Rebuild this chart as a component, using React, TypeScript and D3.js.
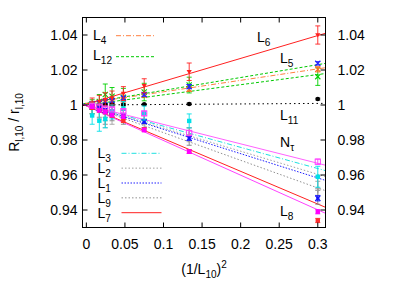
import React from "react";
import * as d3 from "d3";

const X_VALUES = [0.3, 0.1333, 0.075, 0.048, 0.0333, 0.0245, 0.0168, 0.0075];

const L6_Y = [1.040, 1.019, 1.011, 1.0065, 1.004, 1.003, 1.002, 1.001];
const L6_ERR = [0.0052, 0.005, 0.004, 0.004, 0.004, 0.004, 0.0035, 0.003];
const L5_Y = [1.0238, 1.0105, 1.006, 1.004, 1.0025, 1.002, 1.0012, 1.0006];
const L5_ERR = [0.001, 0.0012, 0.001, 0.001, 0.001, 0.001, 0.001, 0.001];
const L4_Y = [1.0204, 1.009, 1.0055, 1.003, 1.002, 1.0015, 1.001, 1.0005];
const L4_ERR = [0.0015, 0.0012, 0.001, 0.001, 0.001, 0.001, 0.001, 0.001];
const L12_Y = [1.0162, 1.0114, 1.0074, 1.0045, 1.005, 1.006, 1.002, 0.999];
const L12_ERR = [0.005, 0.0045, 0.005, 0.005, 0.005, 0.006, 0.004, 0.004];
const L11_Y = [1.0034, 1.0006, 1.0004, 1.0003, 1.0002, 1.0001, 1.0, 1.0];
const L11_ERR = [0.0005, 0.0005, 0.0004, 0.0004, 0.0004, 0.0004, 0.0004, 0.0004];
const NT_Y = [0.9676, 0.984, 0.9952, 0.9965, 0.9975, 0.998, 0.999, 0.9995];
const NT_ERR = [0.0015, 0.0015, 0.0012, 0.001, 0.001, 0.001, 0.001, 0.001];
const L3_Y = [0.959, 0.9909, 0.9954, 0.998, 0.996, 0.992, 0.991, 0.994];
const L3_ERR = [0.006, 0.004, 0.004, 0.004, 0.004, 0.005, 0.006, 0.005];
const L2_Y = [0.9524, 0.983, 0.992, 0.995, 0.993, 0.991, 0.996, 0.998];
const L2_ERR = [0.004, 0.004, 0.003, 0.003, 0.004, 0.004, 0.004, 0.003];
const L1_Y = [0.9467, 0.981, 0.9905, 0.994, 0.996, 0.997, 0.998, 0.999];
const L1_ERR = [0.0015, 0.0012, 0.001, 0.001, 0.001, 0.001, 0.001, 0.001];
const L9_Y = [0.9513, 0.982, 0.991, 0.993, 0.995, 0.993, 0.997, 0.998];
const L9_ERR = [0.008, 0.005, 0.004, 0.004, 0.004, 0.004, 0.004, 0.003];
const L7_Y = [0.934, 0.9735, 0.986, 0.991, 0.994, 0.996, 0.997, 0.9985];
const L7_ERR = [0.0012, 0.001, 0.001, 0.001, 0.001, 0.001, 0.001, 0.001];
const L8_Y = [0.939, 0.9733, 0.9857, 0.9933, 0.9943, 0.996, 0.997, 0.999];
const L8_ERR = [0.0012, 0.001, 0.001, 0.001, 0.001, 0.001, 0.001, 0.001];

// fit lines: intercept, slope
const FIT_L6 = [1.0005, 0.1306];
const FIT_L5 = [1.001, 0.0735];
const FIT_L4 = [1.001, 0.0655];
const FIT_L12 = [1.0, 0.058];
const FIT_L11 = [1.0, 0.003];
const FIT_NT = [1.0, -0.111];
const FIT_L3 = [1.0, -0.121];
const FIT_L2 = [1.0, -0.132];
const FIT_L1 = [1.0, -0.139];
const FIT_L9 = [1.0, -0.158];
const FIT_L7 = [0.9995, -0.187];
const FIT_L8 = [0.9995, -0.198];

const Y_TICKS = [0.94, 0.96, 0.98, 1.0, 1.02, 1.04];
const Y_TICK_LABELS = ["0.94", "0.96", "0.98", "1", "1.02", "1.04"];
const X_TICKS = [0, 0.05, 0.1, 0.15, 0.2, 0.25, 0.3];
const X_TICK_LABELS = ["0", "0.05", "0.1", "0.15", "0.2", "0.25", "0.3"];

const X_DOMAIN = [-0.005, 0.31];
const Y_DOMAIN = [0.93, 1.05];

type Style = { color: string; pcolor: string; dash: string; marker: string; width: number };

const SERIES: { key: string; ys: number[]; errs: number[]; fit: number[]; st: Style }[] = [
  { key: "L12", ys: L12_Y, errs: L12_ERR, fit: FIT_L12, st: { color: "#00c800", pcolor: "#00d000", dash: "3,2", marker: "x", width: 1 } },
  { key: "L4", ys: L4_Y, errs: L4_ERR, fit: FIT_L4, st: { color: "#ff7f40", pcolor: "#ff6a20", dash: "5,2,1,2", marker: "x", width: 1 } },
  { key: "L5", ys: L5_Y, errs: L5_ERR, fit: FIT_L5, st: { color: "#00c800", pcolor: "#2020ff", dash: "3,2", marker: "x", width: 1 } },
  { key: "L11", ys: L11_Y, errs: L11_ERR, fit: FIT_L11, st: { color: "#000000", pcolor: "#000000", dash: "1.5,3", marker: "circle", width: 1 } },
  { key: "L6", ys: L6_Y, errs: L6_ERR, fit: FIT_L6, st: { color: "#ff2020", pcolor: "#ff2020", dash: "", marker: "tri", width: 1 } },
  { key: "L9", ys: L9_Y, errs: L9_ERR, fit: FIT_L9, st: { color: "#909090", pcolor: "#808080", dash: "1.5,2", marker: "plus", width: 1 } },
  { key: "L2", ys: L2_Y, errs: L2_ERR, fit: FIT_L2, st: { color: "#a0a0a0", pcolor: "#a0a0a0", dash: "1.5,2", marker: "plus", width: 1 } },
  { key: "L1", ys: L1_Y, errs: L1_ERR, fit: FIT_L1, st: { color: "#2020ff", pcolor: "#1010ff", dash: "1.5,1.5", marker: "xsq", width: 1 } },
  { key: "L3", ys: L3_Y, errs: L3_ERR, fit: FIT_L3, st: { color: "#20e0e0", pcolor: "#00e0e8", dash: "5,2,1,2", marker: "sq", width: 1 } },
  { key: "NT", ys: NT_Y, errs: NT_ERR, fit: FIT_NT, st: { color: "#ff60ff", pcolor: "#ff40ff", dash: "", marker: "osq", width: 1 } },
  { key: "L7", ys: L7_Y, errs: L7_ERR, fit: FIT_L7, st: { color: "#ff2020", pcolor: "#ff3030", dash: "", marker: "sq", width: 1 } },
  { key: "L8", ys: L8_Y, errs: L8_ERR, fit: FIT_L8, st: { color: "#ff40ff", pcolor: "#ff00ff", dash: "", marker: "sq", width: 1 } },
];

const TOP_LEGEND = [
  { key: "L4", sub: "4" },
  { key: "L12", sub: "12" },
];
const BOTTOM_LEGEND = [
  { key: "L3", sub: "3" },
  { key: "L2", sub: "2" },
  { key: "L1", sub: "1" },
  { key: "L9", sub: "9" },
  { key: "L7", sub: "7" },
];

const W = 415, H = 291;
const ML = 82.5, MR = 325.5, MT = 17.5, MB = 227.5;
const FONT = "'Liberation Sans', Arial, Helvetica, sans-serif";

function Marker({ kind, x, y, color }: { kind: string; x: number; y: number; color: string }) {
  const s = 2.2;
  if (kind === "circle") return <circle cx={x} cy={y} r={2.2} fill={color} />;
  if (kind === "sq") return <rect x={x - s} y={y - s} width={2 * s} height={2 * s} fill={color} />;
  if (kind === "osq") return <rect x={x - s - 0.4} y={y - s - 0.4} width={2 * s + 0.8} height={2 * s + 0.8} fill="none" stroke={color} strokeWidth={1} />;
  if (kind === "tri") return <path d={`M${x - 2.6},${y - 1.8} L${x + 2.6},${y - 1.8} L${x},${y + 2.6} Z`} fill={color} />;
  if (kind === "plus") return <path d={`M${x - 2.6},${y} H${x + 2.6} M${x},${y - 2.6} V${y + 2.6}`} stroke={color} strokeWidth={1} />;
  if (kind === "xsq")
    return (
      <g>
        <rect x={x - 1.8} y={y - 1.8} width={3.6} height={3.6} fill={color} opacity={0.7} />
        <path d={`M${x - 2.6},${y - 2.6} L${x + 2.6},${y + 2.6} M${x - 2.6},${y + 2.6} L${x + 2.6},${y - 2.6}`} stroke={color} strokeWidth={1.1} />
      </g>
    );
  return <path d={`M${x - 2.6},${y - 2.6} L${x + 2.6},${y + 2.6} M${x - 2.6},${y + 2.6} L${x + 2.6},${y - 2.6}`} stroke={color} strokeWidth={1.1} />;
}

function LabelL({ x, y, main, sub, size = 14 }: { x: number; y: number; main: string; sub: string; size?: number }) {
  return (
    <text x={x} y={y} fontFamily={FONT} fontSize={size} fill="#000">
      {main}
      <tspan fontSize={size * 0.72} dy={4}>{sub}</tspan>
    </text>
  );
}

export default function App() {
  const x = d3.scaleLinear().domain(X_DOMAIN).range([ML, MR]);
  const y = d3.scaleLinear().domain(Y_DOMAIN).range([MB, MT]);
  const styleOf = (k: string) => SERIES.find((s) => s.key === k)!.st;
  const fitLine = d3.line<any>().x((d) => x(d[0])).y((d) => y(d[1]));

  return (
    <svg width={W} height={H} style={{ position: "absolute", left: 0, top: 0, background: "#fff" }}>
      <defs>
        <clipPath id="plotclip">
          <rect x={ML} y={MT} width={MR - ML} height={MB - MT} />
        </clipPath>
      </defs>
      <rect x={0} y={0} width={W} height={H} fill="#fff" />

      {/* fit lines */}
      <g clipPath="url(#plotclip)">
        {SERIES.map((s) => {
          const pts: any = X_DOMAIN.map((xv) => [xv, s.fit[0] + s.fit[1] * xv]);
          return (
            <path
              key={"f" + s.key}
              d={fitLine(pts) || ""}
              fill="none"
              stroke={s.st.color}
              strokeWidth={s.st.width}
              strokeDasharray={s.st.dash || undefined}
            />
          );
        })}
      </g>

      {/* data points with error bars */}
      <g clipPath="url(#plotclip)">
        {SERIES.map((s) => (
          <g key={"p" + s.key}>
            {s.ys.map((v, i) => {
              const px = x(X_VALUES[i]);
              const y1 = y(v + s.errs[i]);
              const y2 = y(v - s.errs[i]);
              return (
                <g key={i}>
                  <path
                    d={`M${px},${y1} V${y2} M${px - 2.5},${y1} H${px + 2.5} M${px - 2.5},${y2} H${px + 2.5}`}
                    stroke={s.st.pcolor}
                    strokeWidth={0.9}
                    fill="none"
                  />
                  <Marker kind={s.st.marker} x={px} y={y(v)} color={s.st.pcolor} />
                </g>
              );
            })}
          </g>
        ))}
      </g>

      {/* frame */}
      <rect x={ML} y={MT} width={MR - ML} height={MB - MT} fill="none" stroke="#000" strokeWidth={1} />

      {/* y ticks */}
      {Y_TICKS.map((t, i) => (
        <g key={"yt" + i}>
          <line x1={ML} x2={ML + 5} y1={y(t)} y2={y(t)} stroke="#000" />
          <line x1={MR} x2={MR - 5} y1={y(t)} y2={y(t)} stroke="#000" />
          <text x={ML - 5} y={y(t)} dy="0.35em" textAnchor="end" fontFamily={FONT} fontSize={14}>
            {Y_TICK_LABELS[i]}
          </text>
          <text x={MR + 12} y={y(t)} dy="0.35em" textAnchor="start" fontFamily={FONT} fontSize={14}>
            {Y_TICK_LABELS[i]}
          </text>
        </g>
      ))}

      {/* x ticks */}
      {X_TICKS.map((t, i) => (
        <g key={"xt" + i}>
          <line x1={x(t)} x2={x(t)} y1={MB} y2={MB - 5} stroke="#000" />
          <line x1={x(t)} x2={x(t)} y1={MT} y2={MT + 5} stroke="#000" />
          <text x={x(t)} y={MB + 21} textAnchor="middle" fontFamily={FONT} fontSize={14}>
            {X_TICK_LABELS[i]}
          </text>
        </g>
      ))}

      {/* axis labels */}
      <text x={(ML + MR) / 2} y={274} textAnchor="middle" fontFamily={FONT} fontSize={14}>
        (1/L<tspan fontSize={10} dy={4}>10</tspan>
        <tspan dy={-4}>)</tspan>
        <tspan fontSize={10} dy={-6}>2</tspan>
      </text>
      <text
        transform={`translate(19,${(MT + MB) / 2}) rotate(-90)`}
        textAnchor="middle"
        fontFamily={FONT}
        fontSize={14}
      >
        R<tspan fontSize={10} dy={4}>l,10</tspan>
        <tspan dy={-4}> / r</tspan>
        <tspan fontSize={10} dy={4}>l,10</tspan>
      </text>

      {/* top legend */}
      {TOP_LEGEND.map((l, i) => {
        const st = styleOf(l.key);
        const ly = [35.7, 56.7][i];
        const by = [40, 60][i];
        return (
          <g key={"tl" + i}>
            <LabelL x={93} y={by} main="L" sub={l.sub} />
            <line x1={116} x2={154} y1={ly} y2={ly} stroke={st.color} strokeDasharray={st.dash || undefined} />
          </g>
        );
      })}

      {/* bottom legend */}
      {BOTTOM_LEGEND.map((l, i) => {
        const st = styleOf(l.key);
        const ly = 153.3 + i * 14.85;
        return (
          <g key={"bl" + i}>
            <LabelL x={97.5} y={ly + 5} main="L" sub={l.sub} />
            <line x1={121.5} x2={161.5} y1={ly} y2={ly} stroke={st.color} strokeDasharray={st.dash || undefined} />
          </g>
        );
      })}

      {/* in-plot labels */}
      <LabelL x={257} y={42} main="L" sub="6" />
      <LabelL x={280} y={63} main="L" sub="5" />
      <LabelL x={280} y={120} main="L" sub="11" />
      <LabelL x={280} y={146.5} main="N" sub="τ" />
      <LabelL x={280} y={215.5} main="L" sub="8" />
    </svg>
  );
}
